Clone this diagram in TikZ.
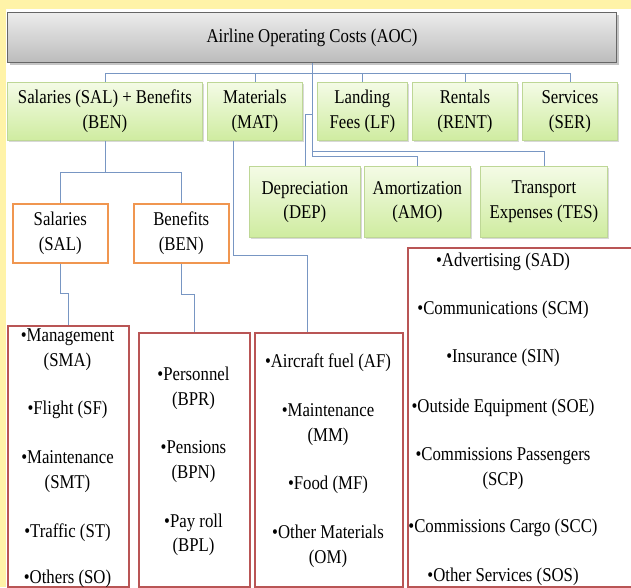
\documentclass[tikz,border=0pt]{standalone}
\usepackage{fontspec}
\setmainfont{Liberation Serif}[FakeStretch=0.86]
\usetikzlibrary{shadows}

\definecolor{slideyellow}{RGB}{255,243,168}
\definecolor{linkblue}{RGB}{120,150,195}
\definecolor{greentop}{RGB}{244,251,230}
\definecolor{greenbot}{RGB}{207,236,160}
\definecolor{greenline}{RGB}{190,215,150}
\definecolor{graytop}{RGB}{236,236,236}
\definecolor{graybot}{RGB}{188,188,188}
\definecolor{orangeline}{RGB}{240,150,80}
\definecolor{redline}{RGB}{185,85,85}

\tikzset{
  txt/.style={align=center, inner sep=1pt, font=\fontsize{19.5}{24.5}\selectfont},
  headbox/.style={txt, draw=black!60, line width=1pt, top color=graytop, bottom color=graybot,
    drop shadow={shadow xshift=2pt, shadow yshift=-2pt, fill=black!45}},
  greenbox/.style={txt, draw=greenline, line width=0.8pt, top color=greentop, bottom color=greenbot,
    drop shadow={shadow xshift=1.5pt, shadow yshift=-1.5pt, fill=black!30}},
  orangebox/.style={draw=orangeline, line width=1.5pt, fill=white},
  listbox/.style={draw=redline, line width=1.5pt, fill=white},
  item/.style={txt},
  link/.style={draw=linkblue, line width=0.8pt}
}

\begin{document}
\begin{tikzpicture}[x=1pt,y=-1pt]
  %%%%% START %%%%%
  \useasboundingbox (0,0) rectangle (631,587);
  \clip (0,0) rectangle (631,587);
  \fill[slideyellow] (0,0) rectangle (631,587);
  \fill[white] (6,9) rectangle (631,587);

  % top
  \node[headbox, minimum width=609pt, minimum height=50pt, anchor=north west] (aoc) at (7,12) {Airline Operating Costs (AOC)};

  % first level
  \node[greenbox, minimum width=195pt, minimum height=58pt, anchor=north west] (salben) at (7,82) {Salaries (SAL) + Benefits\\(BEN)};
  \node[greenbox, minimum width=95pt, minimum height=58pt, anchor=north west] (mat) at (207,82) {Materials\\(MAT)};
  \node[greenbox, minimum width=90pt, minimum height=58pt, anchor=north west] (lf) at (317,82) {Landing\\Fees (LF)};
  \node[greenbox, minimum width=105pt, minimum height=58pt, anchor=north west] (rent) at (412,82) {Rentals\\(RENT)};
  \node[greenbox, minimum width=95pt, minimum height=58pt, anchor=north west] (ser) at (522,82) {Services\\(SER)};

  \node[greenbox, minimum width=111pt, minimum height=71pt, anchor=north west] (dep) at (249,166) {Depreciation\\(DEP)};
  \node[greenbox, minimum width=106pt, minimum height=71pt, anchor=north west] (amo) at (364,166) {Amortization\\(AMO)};
  \node[greenbox, minimum width=127pt, minimum height=71pt, anchor=north west] (tes) at (480,166) {Transport\\Expenses (TES)};

  % salaries and benefits
  \node[txt, orangebox, minimum width=95pt, minimum height=59pt, anchor=north west] (sal) at (12,203) {Salaries\\(SAL)};
  \node[txt, orangebox, minimum width=95pt, minimum height=59pt, anchor=north west] (ben) at (133,203) {Benefits\\(BEN)};

  % lists
  \node[listbox, minimum width=121pt, minimum height=261pt, anchor=north west] (sallist) at (7,325) {};
  \node[listbox, minimum width=111pt, minimum height=254pt, anchor=north west] (benlist) at (138,332) {};
  \node[listbox, minimum width=148pt, minimum height=254pt, anchor=north west] (matlist) at (254,332) {};
  \node[listbox, minimum width=240pt, minimum height=339pt, anchor=north west] (serlist) at (407,247) {};

  \foreach \y/\t [count=\i] in {349.5/{\textbullet Management\\(SMA)}, 410/{\textbullet Flight (SF)},
      471.5/{\textbullet Maintenance\\(SMT)}, 533/{\textbullet Traffic (ST)}, 579/{\textbullet Others (SO)}}
    \node[item] (salitem\i) at (67.5,\y) {\t};
  \foreach \y/\t [count=\i] in {388.5/{\textbullet Personnel\\(BPR)}, 461.5/{\textbullet Pensions\\(BPN)},
      535/{\textbullet Pay roll\\(BPL)}}
    \node[item] (benitem\i) at (193.5,\y) {\t};
  \foreach \y/\t [count=\i] in {363/{\textbullet Aircraft fuel (AF)}, 424.5/{\textbullet Maintenance\\(MM)},
      485/{\textbullet Food (MF)}, 546.5/{\textbullet Other Materials\\(OM)}}
    \node[item] (matitem\i) at (328,\y) {\t};
  \foreach \y/\t [count=\i] in {262/{\textbullet Advertising (SAD)}, 310/{\textbullet Communications (SCM)},
      358/{\textbullet Insurance (SIN)}, 408/{\textbullet Outside Equipment (SOE)},
      468.5/{\textbullet Commissions Passengers\\(SCP)}, 528/{\textbullet Commissions Cargo (SCC)},
      577/{\textbullet Other Services (SOS)}}
    \node[item] (seritem\i) at (503,\y) {\t};

  % connectors
  \foreach \n in {salben,mat,lf,rent,ser}
    \draw[link] (aoc.south) -- ++(0,10) -| (\n.north);
  \draw[link] (aoc.south) -- ++(0,51) -| (dep.north);
  \draw[link] (aoc.south) -- ++(0,93) -| (amo.north);
  \draw[link] (aoc.south) -- ++(0,88) -| (tes.north);

  \draw[link] (salben.south) -- ++(0,32) -| (sal.north);
  \draw[link] (salben.south) -- ++(0,32) -| (ben.north);
  \draw[link] (sal.south) -- ++(0,30) -| (sallist.north);
  \draw[link] (ben.south) -- ++(0,31) -| (benlist.north);
  \draw[link] ([xshift=26pt]mat.south west) -- ++(0,115) -| ([xshift=53pt]matlist.north west);
  %%%%% END %%%%%
\end{tikzpicture}
\end{document}
